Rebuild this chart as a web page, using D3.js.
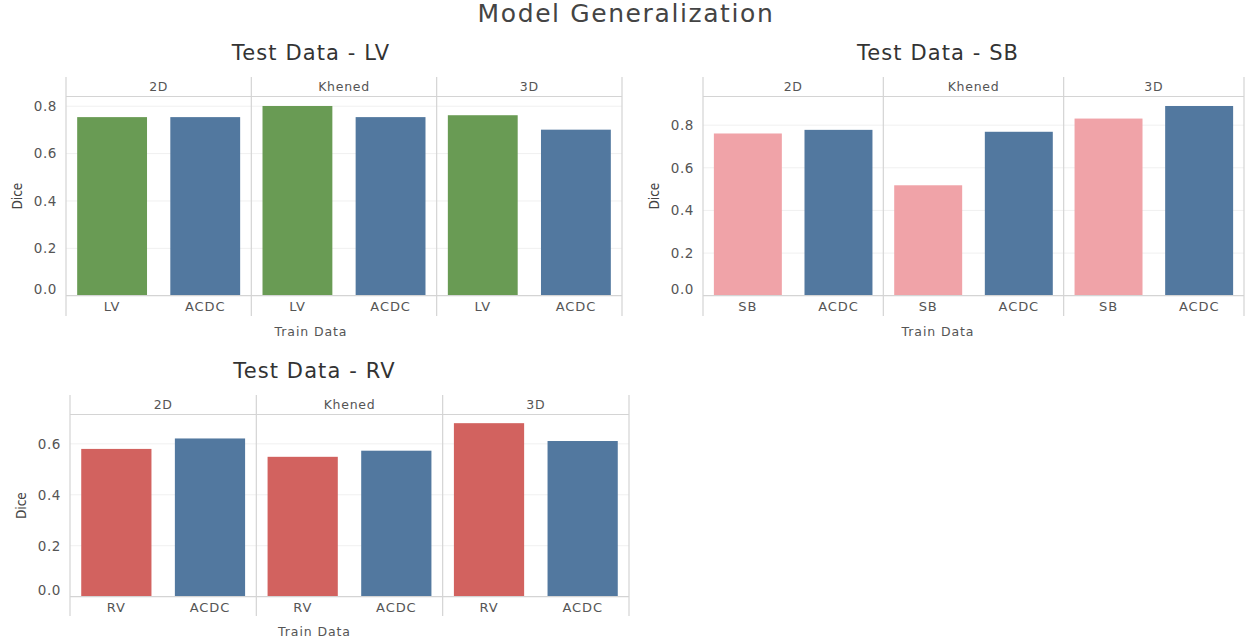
<!DOCTYPE html>
<html>
<head>
<meta charset="utf-8">
<script src="https://cdn.jsdelivr.net/npm/d3@7/dist/d3.min.js"></script>
<style>
  html, body { margin: 0; padding: 0; background: #fff; }
  svg { display: block; }
  text { font-family: "DejaVu Sans", "Open Sans", sans-serif; fill: #555; }
</style>
</head>
<body>
<script>
// Model variants shown as facets within each panel
const models = ["2D", "Khened", "3D"];
const otherTrain = "ACDC";

// Dice scores, one value per model: trained on the test dataset vs trained on ACDC
const lvSelf = [0.754, 0.801, 0.762];
const lvAcdc = [0.754, 0.754, 0.701];
const sbSelf = [0.761, 0.518, 0.831];
const sbAcdc = [0.778, 0.769, 0.890];
const rvSelf = [0.580, 0.549, 0.681];
const rvAcdc = [0.621, 0.573, 0.611];

const lvTicks = [0, 0.2, 0.4, 0.6, 0.8];
const sbTicks = [0, 0.2, 0.4, 0.6, 0.8];
const rvTicks = [0, 0.2, 0.4, 0.6];

const colors = { LV: "#699b54", SB: "#f0a3a8", RV: "#d2625f", ACDC: "#52789f" };

const W = 1250, H = 640;
const svg = d3.select("body").append("svg").attr("width", W).attr("height", H);

svg.append("text")
  .attr("x", 626).attr("y", 22)
  .attr("text-anchor", "middle")
  .style("font-size", "25px").style("letter-spacing", "1.6px").style("fill", "#444")
  .text("Model Generalization");

const panels = [
  { name: "LV", self: lvSelf, acdc: lvAcdc, ticks: lvTicks,
    areaLeft: 0, left: 66, right: 622, top: 77, bottom: 316, baseline: 295.7, diceX: 17 },
  { name: "SB", self: sbSelf, acdc: sbAcdc, ticks: sbTicks,
    areaLeft: 632, left: 703, right: 1244, top: 77, bottom: 316, baseline: 295.7, diceX: 654 },
  { name: "RV", self: rvSelf, acdc: rvAcdc, ticks: rvTicks,
    areaLeft: 0, left: 70, right: 629, top: 395, bottom: 616, baseline: 596.7, diceX: 21 }
];

const stripH = 19.5;
const frameColor = "#d4d4d4";
const gridColor = "#f0f0f0";

panels.forEach(p => {
  const g = svg.append("g");
  const stripY = p.top + stripH;
  const vals = models.map((m, i) => ({ model: m, self: p.self[i], acdc: p.acdc[i] }));
  const maxVal = d3.max(vals, d => Math.max(d.self, d.acdc));

  const y = d3.scaleLinear().domain([0, maxVal * 1.05]).range([p.baseline, stripY]);
  const fx = d3.scaleBand().domain(models).range([p.left, p.right]).padding(0);

  const cx = (p.areaLeft + p.right) / 2;

  // panel title
  g.append("text")
    .attr("x", cx).attr("y", p.top - 17)
    .attr("text-anchor", "middle")
    .style("font-size", "21px").style("letter-spacing", "1.1px").style("fill", "#333")
    .text("Test Data - " + p.name);

  // gridlines
  g.append("g").selectAll("line").data(p.ticks.filter(t => t > 0)).join("line")
    .attr("x1", p.left).attr("x2", p.right)
    .attr("y1", d => y(d)).attr("y2", d => y(d))
    .attr("stroke", gridColor).attr("stroke-width", 1);

  // y axis labels (the zero label sits just above the baseline)
  const yAxis = d3.axisLeft(y).tickValues(p.ticks).tickFormat(d3.format(".1f")).tickSize(0).tickPadding(9);
  const ya = g.append("g").attr("transform", `translate(${p.left},0)`).call(yAxis);
  ya.select(".domain").remove();
  ya.selectAll("text").style("font-size", "13.5px").style("letter-spacing", "0.6px")
    .style("fill", "#555").style("font-family", "DejaVu Sans, sans-serif");
  ya.selectAll(".tick").filter(d => d === 0).select("text").attr("y", -7);

  // y axis title
  g.append("text")
    .attr("transform", `translate(${p.diceX},${(stripY + p.baseline) / 2}) rotate(-90)`)
    .attr("text-anchor", "middle").attr("dy", "0.35em")
    .style("font-family", "'DejaVu Sans Condensed', 'Liberation Sans Narrow', sans-serif")
    .style("font-stretch", "condensed")
    .style("font-size", "13.5px").style("fill", "#444")
    .text("Dice");

  models.forEach((m, i) => {
    const fl = fx(m), fr = fl + fx.bandwidth();
    const x = d3.scaleBand().domain([p.name, otherTrain]).range([fl, fr])
      .paddingInner(0.25).paddingOuter(0.12);
    const rows = [{ k: p.name, v: vals[i].self }, { k: otherTrain, v: vals[i].acdc }];

    g.append("g").selectAll("rect").data(rows).join("rect")
      .attr("x", d => x(d.k)).attr("width", x.bandwidth())
      .attr("y", d => y(d.v)).attr("height", d => y(0) - y(d.v))
      .attr("fill", d => colors[d.k]);

    // strip label
    g.append("text")
      .attr("x", (fl + fr) / 2).attr("y", p.top + stripH / 2).attr("dy", "0.35em")
      .attr("text-anchor", "middle")
      .style("font-size", "12.5px").style("letter-spacing", "0.7px").style("fill", "#555")
      .text(m);

    // x axis labels
    const xAxis = d3.axisBottom(x).tickSize(0).tickPadding(6);
    const xa = g.append("g").attr("transform", `translate(0,${p.baseline})`).call(xAxis);
    xa.select(".domain").remove();
    xa.selectAll("text").style("font-size", "13px").style("letter-spacing", "0.9px")
      .style("fill", "#555").style("font-family", "DejaVu Sans, sans-serif");
  });

  // strip separator and baseline
  g.append("line").attr("x1", p.left).attr("x2", p.right).attr("y1", stripY).attr("y2", stripY)
    .attr("stroke", frameColor).attr("stroke-width", 1.2);
  g.append("line").attr("x1", p.left).attr("x2", p.right).attr("y1", y(0)).attr("y2", y(0))
    .attr("stroke", frameColor).attr("stroke-width", 1.2);

  // facet verticals
  const edges = models.map(m => fx(m)).concat([p.right]);
  g.append("g").selectAll("line").data(edges).join("line")
    .attr("x1", d => d).attr("x2", d => d).attr("y1", p.top).attr("y2", p.bottom)
    .attr("stroke", frameColor).attr("stroke-width", 1.2);

  // x axis title
  g.append("text")
    .attr("x", cx).attr("y", p.bottom + 16).attr("dy", "0.35em")
    .attr("text-anchor", "middle")
    .style("font-size", "12.5px").style("letter-spacing", "0.9px").style("fill", "#555")
    .text("Train Data");
});
</script>
</body>
</html>
